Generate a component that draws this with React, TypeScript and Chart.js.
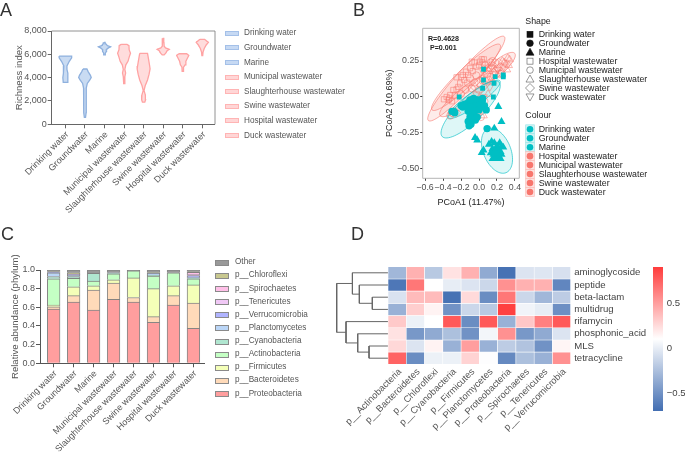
import React, { useEffect, useRef } from "react";
import { Chart, registerables } from "chart.js";

Chart.register(...registerables);

const FONT = "'Liberation Sans', Arial, sans-serif";
const W = 685;
const H = 452;

// ---------- Panel A ----------
const sampleTypes = ["Drinking water", "Groundwater", "Marine", "Municipal wastewater", "Slaughterhouse wastewater", "Swine wastewater", "Hospital wastewater", "Duck wastewater"];
const aLegendRows = ["Drinking water", "Groundwater", "Marine", "Municipal wastewater", "Slaughterhouse wastewater", "Swine wastewater", "Hospital wastewater", "Duck wastewater"];
const violinDepth: number[][] = [
  [5850, 5700, 5400, 5000, 4700, 4400, 4000, 3600],
  [4740, 4500, 4200, 4020, 3800, 3500, 3100, 2000, 1000, 600],
  [7020, 6900, 6750, 6650, 6550, 6400, 6250, 6100, 5950],
  [6850, 6750, 6400, 6100, 5800, 5400, 5100, 4700, 4400, 4100, 3500],
  [6080, 5500, 5000, 4750, 4300, 3800, 3300, 2900, 2500, 2100, 1900],
  [7370, 7000, 6700, 6550, 6420, 6300, 6100, 5950],
  [6050, 5900, 5700, 5400, 5100, 4900, 4550],
  [7290, 7020, 6800, 6500, 6200, 5880],
];
const violinWidth: number[][] = [
  [0.32, 0.32, 0.2, 0.08, 0.08, 0.12, 0.13, 0.11],
  [0.1, 0.17, 0.28, 0.32, 0.25, 0.12, 0.07, 0.065, 0.06, 0.03],
  [0.03, 0.07, 0.15, 0.31, 0.2, 0.09, 0.1, 0.04, 0.04],
  [0.15, 0.25, 0.26, 0.33, 0.27, 0.2, 0.09, 0.04, 0.08, 0.04, 0.02],
  [0.2, 0.26, 0.31, 0.33, 0.28, 0.2, 0.08, 0.02, 0.09, 0.1, 0.06],
  [0.03, 0.04, 0.05, 0.12, 0.31, 0.2, 0.13, 0.05],
  [0.2, 0.31, 0.25, 0.16, 0.12, 0.04, 0.03],
  [0.12, 0.31, 0.2, 0.1, 0.04, 0.02],
];
const violinMedian = [5700, 4000, 6650, 6080, 4780, 6420, 5880, 7020];
const violinQ1 = [4500, 3600, 6400, 5500, 4000, 6200, 5400, 6700];
const violinQ3 = [5800, 4200, 6700, 6500, 5400, 6500, 5950, 7100];
const violinKind = [0, 0, 0, 1, 1, 1, 1, 1];
const violinStroke = ["#8FB1DE", "#FFA3A3"];
const violinFillColor = ["#C9DBF2", "#FFDCDC"];
const swatchEdge = ["#A4C0E8", "#FFB4B4"];
const swatchCore = ["#C6D9F3", "#FFD6D6"];

// ---------- Panel B ----------
const hospitalPts = [[0.03, 0.262], [0.055, 0.262], [0.01, 0.246], [-0.08, 0.246], [-0.145, 0.176], [-0.18, 0.153], [-0.25, 0.137], [-0.12, 0.153], [-0.03, 0.211], [-0.285, 0.049], [-0.36, 0], [-0.39, -0.016], [-0.34, -0.02], [-0.32, 0.014], [-0.25, 0.053], [-0.21, 0.095], [-0.165, 0.118], [-0.1, 0.2], [-0.05, 0.24], [-0.3, -0.03], [-0.27, 0.01], [-0.2, 0.14], [-0.07, 0.18], [-0.13, 0.1], [-0.23, 0.07], [-0.33, -0.01], [0.0, 0.22], [0.04, 0.24]];
const municipalPts = [[0.15, 0.25], [0.14, 0.22], [0.1, 0.2], [0.05, 0.19], [-0.03, 0.15], [-0.1, 0.13], [0.18, 0.24], [-0.05, 0.1], [0, 0.05], [-0.2, 0.02], [-0.15, 0.05], [-0.32, -0.13], [-0.3, -0.11], [0.06, -0.03], [-0.02, -0.12], [0.02, -0.14], [0.09, 0.16], [0.13, 0.24], [0.07, 0.22], [-0.08, 0.06], [0.13, 0.14]];
const slaughterPts = [[0.22, 0.2], [0.28, 0.24], [0.32, 0.27], [0.34, 0.26], [0.3, 0.23], [0.25, 0.18], [0.2, 0.15], [0.18, 0.19], [0.33, 0.22], [0.15, 0.11], [0.1, 0.02], [0.05, -0.13], [-0.03, -0.13], [0.26, 0.25], [0.23, 0.16], [0.31, 0.19]];
const swinePts = [[0.08, 0.19], [0.12, 0.2], [0.22, 0.24], [0.27, 0.2], [-0.28, -0.1], [-0.3, -0.11], [-0.25, -0.11], [-0.05, 0.07], [0.02, 0.08], [-0.02, -0.14], [0.24, 0.21], [0.16, 0.17]];
const duckPts = [[0.04, 0.12], [-0.03, 0.02], [0, -0.02], [0.12, 0.07], [0.18, 0.16], [0.09, 0.13], [0.05, 0], [0.02, -0.08], [0.15, 0.2], [0.21, 0.19]];
const drinkingPts = [[0.05, 0.193], [0.18, 0.142], [0.27, 0.153], [0.05, 0.118], [0.167, 0.095], [0.04, 0.06], [-0.22, 0], [0.16, 0], [0.05, -0.02], [-0.05, -0.05], [0.27, 0.14]];
const groundPts = [[-0.3, -0.1], [-0.28, -0.1], [-0.27, -0.11], [-0.2, -0.06], [-0.16, -0.05], [-0.18, -0.07], [-0.12, -0.04], [-0.14, -0.06], [-0.08, -0.02], [-0.06, -0.01], [-0.03, -0.02], [0, -0.02], [0.03, -0.04], [0.06, -0.06], [0.08, -0.09], [0.02, -0.07], [-0.02, -0.06], [-0.06, -0.06], [-0.1, -0.07], [-0.12, -0.1], [-0.08, -0.12], [-0.05, -0.1], [-0.1, -0.14], [-0.12, -0.17], [-0.09, -0.19], [-0.11, -0.2], [-0.07, -0.16], [-0.04, -0.16], [-0.02, -0.14], [-0.1, -0.02], [0.04, -0.01], [0.0, -0.09], [0.09, -0.22]];
const marinePts = [[0.215, -0.067], [0.25, -0.172], [0.17, -0.218], [-0.044, -0.283], [-0.02, -0.3], [0.05, -0.37], [0.03, -0.388], [0.11, -0.33], [0.14, -0.31], [0.17, -0.32], [0.2, -0.34], [0.23, -0.32], [0.25, -0.34], [0.27, -0.35], [0.15, -0.36], [0.18, -0.37], [0.21, -0.36], [0.24, -0.38], [0.13, -0.39], [0.16, -0.4], [0.19, -0.41], [0.22, -0.41], [0.25, -0.4], [0.15, -0.43], [0.18, -0.43], [0.21, -0.43], [0.24, -0.43], [0.17, -0.39], [0.2, -0.39]];
// ellipse: centre x, centre y, major axis dx, dy, minor axis dx, dy
const pinkEllipses = [
  [-0.141, 0.128, 0.422, 0.292, 0.078, -0.044],
  [-0.144, 0.137, 0.378, 0.227, 0.067, -0.044],
  [0.204, 0.2, 0.193, 0.104, 0.052, -0.037],
  [-0.137, 0.014, 0.296, 0.144, 0.056, -0.046],
];
const tealEllipses = [
  [-0.093, -0.086, 0.315, 0.19, 0.096, -0.06],
  [-0.056, -0.016, 0.289, 0.128, 0.044, -0.039],
  [0.2, -0.374, -0.1, 0.153, 0.141, 0.035],
];
const shapeRows = ["Drinking water", "Groundwater", "Marine", "Hospital wastewater", "Municipal wastewater", "Slaughterhouse wastewater", "Swine wastewater", "Duck wastewater"];
const shapeGlyph = ["fsq", "fci", "ftr", "sq", "ci", "tr", "di", "dt"];
const colourTeal = "#00BFC4";
const colourPink = "#F8766D";

// ---------- Panel C ----------
const phyla = ["p__Proteobacteria", "p__Bacteroidetes", "p__Firmicutes", "p__Actinobacteria", "p__Cyanobacteria", "p__Planctomycetes", "p__Verrucomicrobia", "p__Tenericutes", "p__Spirochaetes", "p__Chloroflexi", "Other"];
const phylaColor = ["#FF9E9E", "#FFDAB9", "#F4FFB8", "#C4FFC4", "#B0E6D0", "#BBD6F7", "#B0B4FF", "#F0C8F5", "#FFC0E8", "#C8C890", "#999999"];
const proteobacteria = [0.58, 0.655, 0.57, 0.685, 0.655, 0.44, 0.625, 0.375];
const bacteroidetes = [0.025, 0.07, 0.215, 0.175, 0.05, 0.06, 0.1, 0.27];
const firmicutes = [0.02, 0.095, 0.045, 0.035, 0.21, 0.3, 0.105, 0.195];
const actinobacteria = [0.28, 0.09, 0.05, 0.065, 0.075, 0.135, 0.14, 0.065];
const cyanobacteria = [0.025, 0.02, 0.085, 0.005, 0, 0.01, 0, 0.01];
const planctomycetes = [0.04, 0.015, 0, 0.005, 0, 0.02, 0, 0.005];
const verrucomicrobia = [0.005, 0.005, 0, 0, 0, 0.005, 0, 0.02];
const tenericutes = [0, 0, 0, 0, 0, 0, 0, 0.01];
const spirochaetes = [0, 0.005, 0, 0, 0, 0, 0, 0.025];
const chloroflexi = [0.005, 0.015, 0, 0, 0, 0.005, 0, 0.005];
const other = [0.02, 0.03, 0.035, 0.03, 0.01, 0.025, 0.03, 0.02];
const phylaValues = [proteobacteria, bacteroidetes, firmicutes, actinobacteria, cyanobacteria, planctomycetes, verrucomicrobia, tenericutes, spirochaetes, chloroflexi, other];

// ---------- Panel D ----------
const heatCols = ["p__Actinobacteria", "p__Bacteroidetes", "p__Chloroflexi", "p__Cyanobacteria", "p__Firmicutes", "p__Planctomycetes", "p__Proteobacteria", "p__Spirochaetes", "p__Tenericutes", "p__Verrucomicrobia"];
const heatRows = ["aminoglycoside", "peptide", "beta-lactam", "multidrug", "rifamycin", "phosphonic_acid", "MLS", "tetracycline"];
const heatValues = [
  [-0.3, 0.42, -0.2, 0.22, 0.42, -0.37, -0.68, -0.05, -0.04, -0.07],
  [-0.65, 0.66, 0.1, 0.0, -0.05, -0.12, 0.55, 0.42, 0.42, -0.57],
  [-0.06, 0.38, 0.38, -0.68, 0.25, -0.53, 0.66, -0.12, -0.3, -0.18],
  [-0.33, 0.3, 0.15, -0.5, -0.12, -0.2, 0.88, 0.04, 0.0, -0.52],
  [0.32, 0.02, 0.1, 0.78, -0.53, 0.78, -0.33, 0.33, 0.62, 0.78],
  [0.22, -0.47, -0.37, -0.25, -0.5, 0.05, 0.55, -0.47, -0.37, -0.05],
  [0.26, -0.05, 0.15, -0.33, 0.5, -0.33, -0.18, -0.23, -0.5, 0.14],
  [0.74, -0.53, 0.02, 0.02, 0.28, 0.09, -0.55, -0.25, -0.33, 0.55],
];
const heatMin = -0.7;
const heatMax = 0.9;
const colourTicks = ["0.5", "0", "\u22120.5"];
// dendrogram branches, x in column widths left of the heatmap, y in rows
const dendroBranches = [
  [[0, 0.5], [-1.95, 0.5], [-1.95, 2.25], [-1.57, 2.25]],
  [[0, 1.5], [-1.57, 1.5], [-1.57, 3], [-0.86, 3]],
  [[0, 2.5], [-0.86, 2.5], [-0.86, 3.5], [0, 3.5]],
  [[0, 4.5], [-2.3, 4.5], [-2.3, 6.25], [-1.66, 6.25]],
  [[0, 5.5], [-1.66, 5.5], [-1.66, 7], [-1.04, 7]],
  [[0, 6.5], [-1.04, 6.5], [-1.04, 7.5], [0, 7.5]],
  [[-1.95, 1.375], [-2.81, 1.375], [-2.81, 5.375], [-2.3, 5.375]],
];

function heatColor(v: number) {
  const mid = (heatMin + heatMax) / 2;
  const blue = [66, 110, 178];
  const red = [255, 60, 60];
  const end = v < mid ? blue : red;
  const t = Math.min(1, v < mid ? (mid - v) / (mid - heatMin) : (v - mid) / (heatMax - mid));
  const c = [0, 1, 2].map((i) => Math.round(255 + (end[i] - 255) * t));
  return `rgb(${c[0]},${c[1]},${c[2]})`;
}

const font = (size: number, weight?: string) => ({ family: FONT, size, weight: weight || "normal" });

const closedFill = {
  id: "closedFill",
  beforeDatasetDraw(chart: any, args: any) {
    const ds = chart.data.datasets[args.index];
    if (!ds.closedColor) return;
    const pts = args.meta.data;
    const ctx = chart.ctx;
    ctx.save();
    ctx.beginPath();
    pts.forEach((p: any, i: number) => (i ? ctx.lineTo(p.x, p.y) : ctx.moveTo(p.x, p.y)));
    ctx.closePath();
    ctx.fillStyle = ds.closedColor;
    ctx.fill();
    ctx.restore();
  },
};

const frameLines = {
  id: "frameLines",
  afterDatasetsDraw(chart: any, _a: any, opts: any) {
    if (!opts.sides) return;
    const { left, right, top, bottom } = chart.chartArea;
    const ctx = chart.ctx;
    ctx.save();
    ctx.strokeStyle = opts.color;
    ctx.lineWidth = opts.width;
    ctx.beginPath();
    if (opts.sides.includes("t")) { ctx.moveTo(left, top); ctx.lineTo(right, top); }
    if (opts.sides.includes("r")) { ctx.moveTo(right, top); ctx.lineTo(right, bottom); }
    if (opts.sides.includes("b")) { ctx.moveTo(left, bottom); ctx.lineTo(right, bottom); }
    if (opts.sides.includes("l")) { ctx.moveTo(left, top); ctx.lineTo(left, bottom); }
    ctx.stroke();
    ctx.restore();
  },
};

const ellipsePlugin = {
  id: "ellipses",
  beforeDatasetsDraw(chart: any) {
    const { x: sx, y: sy } = chart.scales;
    const ctx = chart.ctx;
    const draw = (list: number[][], stroke: string, fill: string) => {
      list.forEach((e) => {
        ctx.beginPath();
        for (let i = 0; i <= 72; i++) {
          const a = (i / 72) * 2 * Math.PI;
          const px = sx.getPixelForValue(e[0] + e[2] * Math.cos(a) + e[4] * Math.sin(a));
          const py = sy.getPixelForValue(e[1] + e[3] * Math.cos(a) + e[5] * Math.sin(a));
          if (i) ctx.lineTo(px, py); else ctx.moveTo(px, py);
        }
        ctx.closePath();
        ctx.fillStyle = fill;
        ctx.fill();
        ctx.strokeStyle = stroke;
        ctx.lineWidth = 0.8;
        ctx.stroke();
      });
    };
    ctx.save();
    draw(pinkEllipses, "rgba(248,118,109,0.75)", "rgba(248,118,109,0.14)");
    draw(tealEllipses, "rgba(0,191,196,0.8)", "rgba(0,191,196,0.13)");
    ctx.restore();
  },
};

function box(left: number, top: number, right: number, bottom: number, yW: number, xH: number) {
  return {
    autoPadding: false,
    padding: { left: left - yW, top, right: W - right, bottom: H - bottom - xH },
  };
}

function useChart(make: () => any) {
  const ref = useRef<HTMLCanvasElement | null>(null);
  useEffect(() => {
    const c = new Chart(ref.current as HTMLCanvasElement, make());
    return () => c.destroy();
  }, []);
  return ref;
}

function configA() {
  const datasets: any[] = [];
  sampleTypes.forEach((_, i) => {
    const k = violinKind[i];
    const c = i + 1;
    const d = violinDepth[i];
    const w = violinWidth[i];
    const left = d.map((y, j) => ({ x: c - w[j], y }));
    const right = d.map((y, j) => ({ x: c + w[j], y })).reverse();
    datasets.push({ data: [...left, ...right, left[0]], showLine: true, pointRadius: 0, borderColor: violinStroke[k], borderWidth: 1.3, closedColor: violinFillColor[k] });
    const half = (v: number) => {
      let best = 0;
      d.forEach((y, j) => { if (Math.abs(y - v) < Math.abs(d[best] - v)) best = j; });
      return w[best];
    };
    [violinQ1[i], violinQ3[i]].forEach((q) => {
      datasets.push({ data: [{ x: c - half(q), y: q }, { x: c + half(q), y: q }], showLine: true, pointRadius: 0, borderColor: violinStroke[k], borderWidth: 0.7, borderDash: [1.5, 1.5] });
    });
    const m = violinMedian[i];
    datasets.push({ data: [{ x: c - half(m), y: m }, { x: c + half(m), y: m }], showLine: true, pointRadius: 0, borderColor: violinStroke[k], borderWidth: 1.2 });
  });
  return {
    type: "scatter",
    data: { datasets },
    plugins: [closedFill, frameLines],
    options: {
      animation: false, responsive: false, layout: box(51.7, 31, 215, 124.3, 38, 100),
      plugins: { legend: { display: false }, tooltip: { enabled: false }, frameLines: { sides: "tr", color: "#777", width: 0.8 } },
      scales: {
        x: {
          type: "linear", min: 0.3, max: 8.65,
          afterBuildTicks: (s: any) => { s.ticks = sampleTypes.map((_, i) => ({ value: i + 1 })); },
          afterFit: (s: any) => { s.height = 100; },
          border: { color: "#666", width: 1 },
          grid: { drawOnChartArea: false, tickLength: 4, color: "#666" },
          ticks: { autoSkip: false, minRotation: 45, maxRotation: 45, padding: 1, labelOffset: 2, color: "#555", font: font(9), callback: (v: number) => sampleTypes[v - 1] },
        },
        y: {
          min: 0, max: 8000,
          afterFit: (s: any) => { s.width = 38; },
          border: { color: "#666", width: 1 },
          grid: { drawOnChartArea: false, tickLength: 4, color: "#666" },
          ticks: { stepSize: 2000, padding: 1, color: "#555", font: font(9) },
          title: { display: true, text: "Richness index", color: "#555", font: font(9.6), padding: 0 },
        },
      },
    },
  };
}

function configB() {
  const pts = (a: number[][]) => a.map((p) => ({ x: p[0], y: p[1] }));
  const filled = (a: number[][], style: string, r: number) => ({ data: pts(a), pointStyle: style, pointRadius: r, backgroundColor: colourTeal, borderColor: colourTeal, borderWidth: 0 });
  const hollow = (a: number[][], style: string, r: number, rot = 0) => ({ data: pts(a), pointStyle: style, pointRadius: r, rotation: rot, backgroundColor: "rgba(0,0,0,0)", borderColor: "rgba(248,118,109,0.65)", borderWidth: 0.8 });
  return {
    type: "scatter",
    data: {
      datasets: [
        filled(groundPts, "circle", 3.7),
        filled(drinkingPts, "rect", 3.4),
        filled(marinePts, "triangle", 4.6),
        hollow(hospitalPts, "rect", 3.7),
        hollow(municipalPts, "circle", 3.6),
        hollow(slaughterPts, "triangle", 4.4),
        hollow(swinePts, "rectRot", 4.2),
        hollow(duckPts, "triangle", 4.4, 180),
      ],
    },
    plugins: [ellipsePlugin, frameLines],
    options: {
      animation: false, responsive: false, layout: box(422.7, 28.3, 519.3, 178.3, 38.7, 30),
      plugins: { legend: { display: false }, tooltip: { enabled: false }, frameLines: { sides: "trbl", color: "#B5B5B5", width: 1 } },
      scales: {
        x: {
          min: -0.626, max: 0.448,
          afterFit: (s: any) => { s.height = 30; },
          border: { display: false },
          grid: { drawOnChartArea: false, tickLength: 2.5, color: "#444" },
          ticks: { stepSize: 0.2, includeBounds: false, padding: 1, color: "#4D4D4D", font: font(8.8), minRotation: 0, maxRotation: 0, autoSkip: false, callback: (v: number) => (v < -0.001 ? "\u2212" : "") + Math.abs(v).toFixed(1) },
          title: { display: true, text: "PCoA1 (11.47%)", color: "#222", font: font(9), padding: { top: 0, bottom: 0 } },
        },
        y: {
          min: -0.566, max: 0.478,
          afterFit: (s: any) => { s.width = 38.7; },
          border: { display: false },
          grid: { drawOnChartArea: false, tickLength: 2.5, color: "#444" },
          ticks: { stepSize: 0.25, includeBounds: false, padding: 1, color: "#4D4D4D", font: font(8.8), callback: (v: number) => (v < -0.001 ? "\u2212" : "") + Math.abs(v).toFixed(2) },
          title: { display: true, text: "PCoA2 (10.69%)", color: "#222", font: font(9), padding: 0 },
        },
      },
    },
  };
}

function configC() {
  return {
    type: "bar",
    data: {
      datasets: phyla.map((name, j) => ({
        label: name,
        data: phylaValues[j].map((y, i) => ({ x: i + 1, y })),
        backgroundColor: phylaColor[j],
        borderColor: "rgba(95,95,95,0.75)",
        borderWidth: 1,
        barThickness: 12.7,
      })),
    },
    options: {
      animation: false, responsive: false, layout: box(40, 270, 204, 363.3, 30, 88),
      plugins: { legend: { display: false }, tooltip: { enabled: false } },
      scales: {
        x: {
          type: "linear", min: 0.315, max: 8.53, stacked: true, offset: false,
          afterBuildTicks: (s: any) => { s.ticks = sampleTypes.map((_, i) => ({ value: i + 1 })); },
          afterFit: (s: any) => { s.height = 88; },
          border: { color: "#555", width: 1 },
          grid: { drawOnChartArea: false, tickLength: 4, color: "#555", offset: false },
          ticks: { autoSkip: false, minRotation: 45, maxRotation: 45, padding: 1, labelOffset: 2, color: "#555", font: font(9), callback: (v: number) => sampleTypes[v - 1] },
        },
        y: {
          min: 0, max: 1, stacked: true,
          afterFit: (s: any) => { s.width = 30; },
          border: { color: "#555", width: 1 },
          grid: { drawOnChartArea: false, tickLength: 4, color: "#555" },
          ticks: { stepSize: 0.2, padding: 1, color: "#555", font: font(9), callback: (v: number) => v.toFixed(1) },
          title: { display: true, text: "Relative abundance (phylum)", color: "#555", font: font(9.6), padding: 0 },
        },
      },
    },
  };
}

function configD() {
  const cells = heatRows.map((name, r) => ({
    type: "bar",
    label: name,
    data: heatCols.map((_, c) => ({ x: c + 0.5, y: [r, r + 1] })),
    backgroundColor: heatCols.map((_, c) => heatColor(heatValues[r][c])),
    borderColor: "#FFFFFF",
    borderWidth: 0.6,
    borderSkipped: false,
    barThickness: 18.27,
    grouped: false,
  }));
  const branches = dendroBranches.map((b) => ({
    type: "scatter",
    data: b.map((p) => ({ x: p[0], y: p[1] })),
    showLine: true,
    pointRadius: 0,
    borderColor: "#666",
    borderWidth: 1,
    clip: false,
  }));
  return {
    data: { datasets: [...cells, ...branches] },
    options: {
      animation: false, responsive: false, layout: { autoPadding: false, padding: { left: 336.7, top: 266.7, right: W - 570.7 - 100, bottom: H - 364.3 - 87 } },
      plugins: { legend: { display: false }, tooltip: { enabled: false } },
      scales: {
        x: {
          type: "linear", min: -2.81, max: 10, offset: false,
          afterBuildTicks: (s: any) => { s.ticks = heatCols.map((_, i) => ({ value: i + 0.5 })); },
          afterFit: (s: any) => { s.height = 87; },
          border: { display: false },
          grid: { display: false, drawTicks: false, offset: false },
          ticks: { autoSkip: false, minRotation: 45, maxRotation: 45, padding: 2, labelOffset: 3, color: "#555", font: font(9.4), callback: (v: number) => heatCols[Math.round(v - 0.5)] },
        },
        y: {
          position: "right", reverse: true, min: 0, max: 8,
          afterBuildTicks: (s: any) => { s.ticks = heatRows.map((_, i) => ({ value: i + 0.5 })); },
          afterFit: (s: any) => { s.width = 100; },
          border: { display: false },
          grid: { display: false, drawTicks: false },
          ticks: { autoSkip: false, padding: 3.5, color: "#444", font: font(9.6), callback: (v: number) => heatRows[Math.round(v - 0.5)] },
        },
      },
    },
  };
}

const txt = (x: number, y: number, size: number, color: string, s: string, extra: any = {}) => (
  <div key={`${s}-${x}-${y}`} style={{ position: "absolute", left: x, top: y, transform: "translateY(-50%)", fontFamily: FONT, fontSize: size, color, whiteSpace: "nowrap", lineHeight: 1, ...extra }}>{s}</div>
);

function Glyph({ kind, x, y }: { kind: string; x: number; y: number }) {
  const dark = "#111";
  const grey = "#555";
  const common = { fill: kind[0] === "f" ? dark : "none", stroke: kind[0] === "f" ? dark : grey, strokeWidth: 0.6 };
  const k = kind.replace(/^f/, "");
  let el: any = null;
  if (k === "sq") el = <rect x={x - 3} y={y - 3} width={6} height={6} {...common} />;
  if (k === "ci") el = <circle cx={x} cy={y} r={3.3} {...common} />;
  if (k === "tr") el = <polygon points={`${x},${y - 4} ${x + 4},${y + 3} ${x - 4},${y + 3}`} {...common} />;
  if (k === "di") el = <polygon points={`${x},${y - 4.5} ${x + 4.5},${y} ${x},${y + 4.5} ${x - 4.5},${y}`} {...common} />;
  if (k === "dt") el = <polygon points={`${x},${y + 4} ${x + 4},${y - 3} ${x - 4},${y - 3}`} {...common} />;
  return el;
}

export default function App() {
  const a = useChart(configA);
  const b = useChart(configB);
  const c = useChart(configC);
  const d = useChart(configD);
  const cs: any = { position: "absolute", left: 0, top: 0, width: W, height: H };
  const aRowY = (i: number) => 33.3 + i * 14.6;
  const shapeY = (i: number) => 34.3 + i * 8.95;
  const colourY = (i: number) => 129.3 + i * 8.95;
  const colourRows = shapeRows;
  const cRowY = (i: number) => 262.3 + i * 13.13;
  const phylaTop = [...phyla].reverse();
  const phylaColorTop = [...phylaColor].reverse();
  return (
    <div style={{ position: "absolute", left: 0, top: 0, width: W, height: H, background: "#fff", overflow: "hidden", filter: "blur(0.35px)" }}>
      <canvas ref={c} width={W} height={H} style={cs} />
      <canvas ref={a} width={W} height={H} style={cs} />
      <canvas ref={b} width={W} height={H} style={cs} />
      <canvas ref={d} width={W} height={H} style={cs} />

      {txt(0, 9.5, 18, "#333", "A")}
      {txt(353, 9.5, 18, "#333", "B")}
      {txt(1, 233.5, 18, "#333", "C")}
      {txt(351, 233.5, 18, "#333", "D")}

      {aLegendRows.map((s, i) => {
        const k = violinKind[i];
        return (
          <React.Fragment key={s}>
            <div style={{ position: "absolute", left: 224.5, top: aRowY(i) - 2.5, width: 12, height: 3, background: swatchCore[k], border: `1px solid ${swatchEdge[k]}`, boxSizing: "content-box" }} />
            {txt(244, aRowY(i), 8.2, "#555", s)}
          </React.Fragment>
        );
      })}

      {txt(525.3, 20.7, 8.8, "#222", "Shape")}
      {txt(525.3, 115, 8.8, "#222", "Colour")}
      <svg width={W} height={H} style={{ position: "absolute", left: 0, top: 0 }}>
        {shapeGlyph.map((g, i) => <Glyph key={g} kind={g} x={530} y={shapeY(i)} />)}
        {colourRows.map((s, i) => (
          <rect key={`k${s}`} x={525.7} y={colourY(i) - 4.47} width={8.6} height={8.95} fill={i < 3 ? "#D4F3F4" : "#FDE3E1"} stroke={i < 3 ? "#9BE3E6" : "#FBBDB8"} strokeWidth={0.7} />
        ))}
        {colourRows.map((s, i) => <circle key={s} cx={530} cy={colourY(i)} r={3.3} fill={i < 3 ? colourTeal : colourPink} />)}
      </svg>
      {shapeRows.map((s, i) => <React.Fragment key={s}>{txt(538.7, shapeY(i), 8.8, "#222", s)}</React.Fragment>)}
      {colourRows.map((s, i) => <React.Fragment key={s}>{txt(538.7, colourY(i), 8.8, "#222", s)}</React.Fragment>)}
      {txt(428, 40, 7.1, "#222", "R=0.4628", { fontWeight: 700 })}
      {txt(430, 48.7, 7.1, "#222", "P=0.001", { fontWeight: 700 })}

      {phylaTop.map((s, i) => (
        <React.Fragment key={s}>
          <div style={{ position: "absolute", left: 214.5, top: cRowY(i) - 2.5, width: 12, height: 4, background: phylaColorTop[i], border: "1px solid #8A8A8A" }} />
          {txt(235, cRowY(i), 8.2, "#555", s)}
        </React.Fragment>
      ))}

      <div style={{ position: "absolute", left: 653, top: 266.7, width: 9.7, height: 144, background: `linear-gradient(to bottom, ${heatColor(heatMax)}, #FFFFFF 50%, ${heatColor(heatMin)})` }} />
      {colourTicks.map((s, i) => <React.Fragment key={s}>{txt(666.7, 302.7 + i * 45, 9.6, "#444", s)}</React.Fragment>)}
    </div>
  );
}
